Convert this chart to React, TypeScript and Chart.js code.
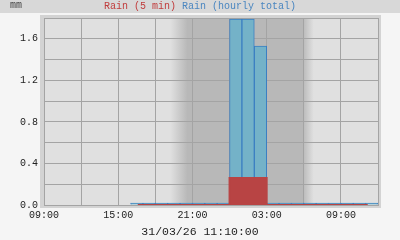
import { useEffect, useRef } from "react";
import { Chart, registerables } from "chart.js";

Chart.register(...registerables);

// Time axis: hours since 00:00 on 30/03/26 (09:00 day 1 .. 12:00 day 2)
const xMin = 9;
const xMax = 36;

// Rain (hourly total), bars starting at each hour
const hourlyStarts = [16, 17, 18, 19, 20, 21, 22, 23, 24, 25, 26, 27, 28, 29, 30, 31, 32, 33, 34, 35];
const hourlyTotals = [0, 0, 0, 0, 0, 0, 0, 0, 1.79, 1.79, 1.53, 0, 0, 0, 0, 0, 0, 0, 0, 0];

// Rain (5 min), step runs: value holds from each time to the next
const fiveMinTimes = [16.58, 24, 27, 35.17];
const fiveMinValues = [0, 0.26, 0, 0];

// Twilight (day/night shading)
const duskStart = 19.2;
const duskEnd = 20.6;
const dawnStart = 29.9;
const dawnEnd = 30.8;

const yMax = 1.8;
const unitLabel = "mm";
const legendItems = [
  { text: "Rain (5 min)", color: "#c03c3c" },
  { text: "Rain (hourly total)", color: "#4a86c0" },
];
const footerText = "31/03/26 11:10:00";

const MONO = '"Liberation Mono", "DejaVu Sans Mono", monospace';
const DAY = "#e0e0e0";
const NIGHT = "#b8b8b8";
const GRID = "#a4a4a4";

const pad = (n: number) => (n < 10 ? "0" + n : "" + n);

const bgPlugin = {
  id: "bgPlugin",
  beforeDraw(chart: any) {
    const { ctx, chartArea: a, scales } = chart;
    const x = scales.x;
    const w = a.right - a.left;
    const h = a.bottom - a.top;
    ctx.save();
    ctx.fillStyle = "#f5f5f5";
    ctx.fillRect(0, 0, chart.width, chart.height);
    ctx.fillStyle = "#d8d8d8";
    ctx.fillRect(0, 0, chart.width, 13);
    ctx.fillStyle = "#d3d3d3";
    ctx.fillRect(a.left - 4, a.top - 3, w + 7, h + 6);
    const g = ctx.createLinearGradient(a.left, 0, a.right, 0);
    const stop = (t: number) => Math.min(1, Math.max(0, (x.getPixelForValue(t) - a.left) / w));
    g.addColorStop(0, DAY);
    g.addColorStop(stop(duskStart), DAY);
    g.addColorStop(stop(duskEnd), NIGHT);
    g.addColorStop(stop(dawnStart), NIGHT);
    g.addColorStop(stop(dawnEnd), DAY);
    g.addColorStop(1, DAY);
    ctx.fillStyle = g;
    ctx.fillRect(a.left, a.top, w, h);
    ctx.restore();
  },
  afterDraw(chart: any) {
    const { ctx } = chart;
    ctx.save();
    ctx.font = "10px " + MONO;
    ctx.textBaseline = "alphabetic";
    ctx.fillStyle = "#444";
    ctx.textAlign = "left";
    ctx.fillText(unitLabel, 10, 8);
    // legend centered
    const full = legendItems.map((l) => l.text).join(" ");
    const totalW = ctx.measureText(full).width;
    let cx = chart.width / 2 - totalW / 2;
    legendItems.forEach((l) => {
      ctx.fillStyle = l.color;
      ctx.fillText(l.text, cx, 9);
      cx += ctx.measureText(l.text + " ").width;
    });
    ctx.font = "11.5px " + MONO;
    ctx.fillStyle = "#222";
    ctx.textAlign = "center";
    ctx.fillText(footerText, chart.width / 2, 235);
    ctx.restore();
  },
};

export default function App() {
  const ref = useRef<HTMLCanvasElement | null>(null);
  useEffect(() => {
    document.body.style.margin = "0";
    const canvas = ref.current!;
    const chart = new Chart(canvas, {
      type: "bar",
      data: {
        datasets: [
          {
            type: "line",
            label: "Rain (5 min)",
            data: fiveMinTimes.map((t, i) => ({ x: t, y: fiveMinValues[i] })),
            borderColor: "#b84444",
            backgroundColor: "#b84444",
            borderWidth: 2,
            stepped: true,
            fill: "origin",
            pointRadius: 0,
          } as any,
          {
            type: "bar",
            label: "Rain (hourly total)",
            data: hourlyStarts.map((t, i) => ({ x: t + 0.5, y: hourlyTotals[i] })),
            backgroundColor: "#74b2c8",
            borderColor: "#3b7fc2",
            borderWidth: 1,
            barPercentage: 1,
            categoryPercentage: 1,
            minBarLength: 2,
          } as any,
        ],
      },
      options: {
        animation: false,
        responsive: false,
        devicePixelRatio: 1,
        layout: { padding: { top: 18, right: 22, left: 0, bottom: 0 } },
        plugins: { legend: { display: false }, tooltip: { enabled: false } },
        scales: {
          x: {
            type: "linear",
            min: xMin,
            max: xMax,
            offset: false,
            afterFit: (s: any) => {
              s.height = 35;
            },
            grid: { color: GRID, drawTicks: false, lineWidth: 1, offset: false },
            border: { display: true, color: GRID },
            ticks: {
              stepSize: 3,
              autoSkip: false,
              maxRotation: 0,
              padding: 4,
              color: "#222",
              font: { family: MONO, size: 10 },
              callback: (v: any) => (v % 6 === 3 ? pad(v % 24) + ":00" : ""),
            },
          },
          y: {
            min: 0,
            max: yMax,
            afterFit: (s: any) => {
              s.width = 44;
            },
            grid: { color: GRID, drawTicks: false, lineWidth: 1 },
            border: { display: true, color: GRID },
            ticks: {
              stepSize: 0.2,
              autoSkip: false,
              padding: 6,
              color: "#222",
              font: { family: MONO, size: 10 },
              callback: (v: any) => (Math.round(v * 10) % 4 === 0 ? Number(v).toFixed(1) : ""),
            },
          },
        },
      },
      plugins: [bgPlugin],
    });
    return () => chart.destroy();
  }, []);
  return (
    <div style={{ position: "absolute", left: 0, top: 0, width: 400, height: 240 }}>
      <canvas ref={ref} width={400} height={240} style={{ display: "block" }} />
    </div>
  );
}
